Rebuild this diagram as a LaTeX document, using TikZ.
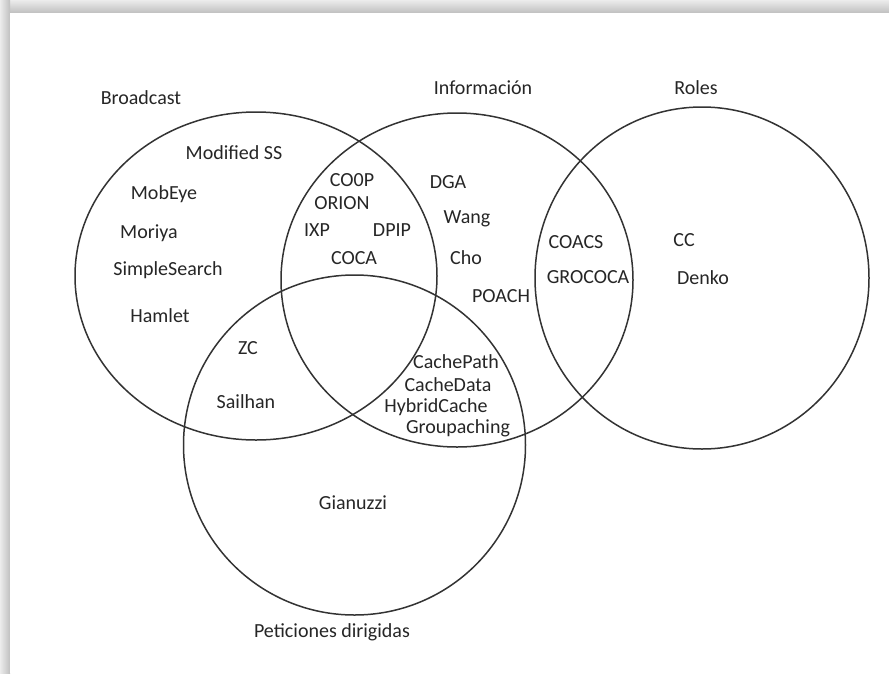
\documentclass[tikz,border=0pt]{standalone}
\usepackage{fontspec}
\setmainfont{Carlito}
\begin{document}
\begin{tikzpicture}[x=1pt,y=-1pt,
  setring/.style={draw=black!80, line width=1.5pt},
  lbl/.style={font=\fontsize{20}{24}\selectfont, text=black!85, inner sep=0pt, anchor=center}]
\useasboundingbox (0,0) rectangle (889,673);
% page frame with soft shadow on the top and left sides
\shade[top color=gray!15, bottom color=gray!50] (0,0) rectangle (889,13);
\shade[left color=gray!15, right color=gray!50] (0,0) rectangle (10,673);
\fill[white] (10,13) rectangle (889,673);

% the four sets
\draw[setring] (256,276) ellipse [x radius=181, y radius=164];
\draw[setring] (457,280) ellipse [x radius=176, y radius=167];
\draw[setring] (702,278) ellipse [x radius=167, y radius=171];
\draw[setring] (354.5,445) ellipse [x radius=171, y radius=170];

% set titles
\node[lbl] (tBroad) at (141,98) {Broadcast};
\node[lbl] (tInfo) at (483,88) {Información};
\node[lbl] (tRoles) at (696,88) {Roles};
\node[lbl] (tPet) at (332,632) {Peticiones dirigidas};

% Broadcast only
\node[lbl] (modss) at (234,153) {Modified SS};
\node[lbl] (mobeye) at (164,194) {MobEye};
\node[lbl] (moriya) at (149,233) {Moriya};
\node[lbl] (simple) at (168,270) {SimpleSearch};
\node[lbl] (hamlet) at (160,316) {Hamlet};

% Broadcast and Información
\node[lbl] (coop) at (352,180) {CO0P};
\node[lbl] (orion) at (342,203) {ORION};
\node[lbl] (ixp) at (317,230) {IXP};
\node[lbl] (dpip) at (392,230) {DPIP};
\node[lbl] (coca) at (354,258) {COCA};

% Información only
\node[lbl] (dga) at (448,182) {DGA};
\node[lbl] (wang) at (467,219) {Wang};
\node[lbl] (cho) at (466,258) {Cho};
\node[lbl] (poach) at (501,296) {POACH};

% Información and Roles
\node[lbl] (coacs) at (576,242) {COACS};
\node[lbl] (grococa) at (588,277) {GROCOCA};

% Roles only
\node[lbl] (cc) at (684,240) {CC};
\node[lbl] (denko) at (703,278) {Denko};

% Broadcast and Peticiones
\node[lbl] (zc) at (248,348) {ZC};
\node[lbl] (sailhan) at (246,402) {Sailhan};

% Información and Peticiones
\node[lbl] (cpath) at (456,362) {CachePath};
\node[lbl] (cdata) at (448,385) {CacheData};
\node[lbl] (hybrid) at (436,407) {HybridCache};
\node[lbl] (group) at (458,428) {Groupaching};

% Peticiones only
\node[lbl] (gianuzzi) at (353,503) {Gianuzzi};
\end{tikzpicture}
\end{document}
